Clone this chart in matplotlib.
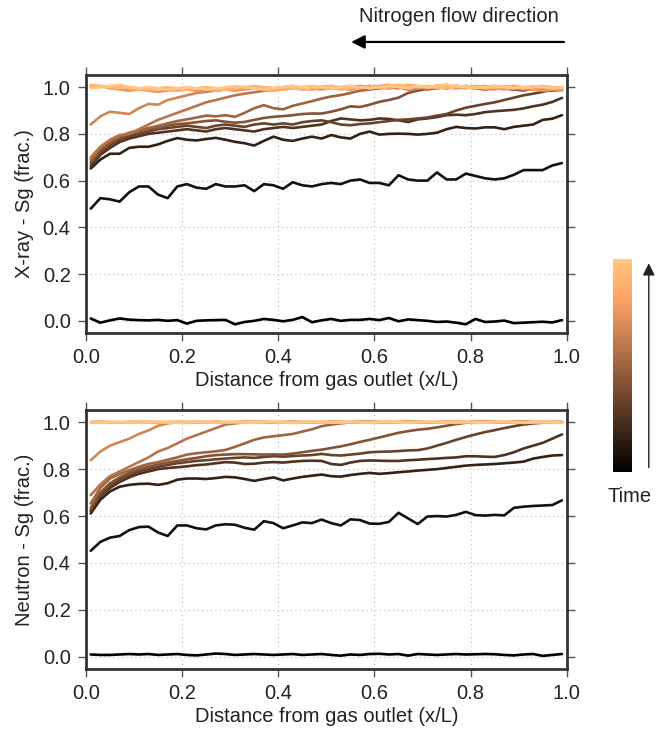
import matplotlib
matplotlib.use("Agg")
import matplotlib.pyplot as plt
import numpy as np
from matplotlib import cm
from matplotlib.colors import Normalize

plt.rcParams['font.family'] = ['Liberation Sans', 'DejaVu Sans']
plt.rcParams['font.size'] = 14.5
plt.rcParams['text.color'] = '#222222'
plt.rcParams['axes.labelcolor'] = '#222222'

# position along the core (x/L), 50 samples
x_pos = np.linspace(0.01, 0.99, 50)

# ---- X-ray saturation profiles, early -> late ----
xray_0 = [0.010, -0.008, 0.002, 0.010, 0.005, 0.003, 0.002, 0.004, 0.000, 0.003,
          -0.012, 0.000, 0.002, 0.003, 0.004, -0.015, -0.005, 0.000, 0.008, 0.004,
          -0.002, 0.004, 0.016, -0.006, 0.002, 0.008, 0.000, 0.004, 0.004, 0.008,
          0.003, 0.012, -0.002, 0.006, 0.003, 0.000, -0.005, -0.003, -0.008, -0.015,
          0.008, -0.005, -0.003, 0.001, -0.010, -0.008, -0.006, -0.004, -0.007, 0.003]
xray_1 = [0.48, 0.525, 0.52, 0.51, 0.55, 0.575, 0.575, 0.54, 0.525, 0.575,
          0.585, 0.57, 0.565, 0.585, 0.575, 0.575, 0.58, 0.555, 0.585, 0.58,
          0.565, 0.593, 0.58, 0.575, 0.585, 0.59, 0.585, 0.6, 0.605, 0.59,
          0.59, 0.58, 0.623, 0.605, 0.6, 0.6, 0.635, 0.605, 0.605, 0.63,
          0.62, 0.61, 0.605, 0.61, 0.625, 0.645, 0.645, 0.645, 0.665, 0.675]
xray_2 = [0.652, 0.69, 0.715, 0.715, 0.74, 0.745, 0.745, 0.755, 0.77, 0.782,
          0.775, 0.772, 0.778, 0.783, 0.775, 0.766, 0.76, 0.75, 0.77, 0.788,
          0.775, 0.77, 0.78, 0.788, 0.78, 0.795, 0.785, 0.78, 0.80, 0.81,
          0.797, 0.80, 0.801, 0.80, 0.797, 0.80, 0.805, 0.82, 0.83, 0.825,
          0.823, 0.828, 0.828, 0.82, 0.83, 0.835, 0.84, 0.86, 0.865, 0.88]
xray_3 = [0.66, 0.71, 0.74, 0.765, 0.78, 0.79, 0.80, 0.805, 0.81, 0.815,
          0.82, 0.815, 0.81, 0.82, 0.825, 0.82, 0.815, 0.81, 0.82, 0.825,
          0.83, 0.825, 0.83, 0.835, 0.84, 0.855, 0.866, 0.862, 0.858, 0.86,
          0.866, 0.864, 0.858, 0.851, 0.862, 0.866, 0.872, 0.88, 0.882, 0.88,
          0.885, 0.893, 0.897, 0.90, 0.903, 0.909, 0.918, 0.925, 0.937, 0.954]
xray_4 = [0.67, 0.72, 0.75, 0.775, 0.79, 0.80, 0.81, 0.82, 0.825, 0.83,
          0.835, 0.83, 0.825, 0.835, 0.84, 0.835, 0.83, 0.84, 0.845, 0.84,
          0.845, 0.84, 0.85, 0.855, 0.858, 0.85, 0.84, 0.837, 0.842, 0.845,
          0.85, 0.855, 0.86, 0.862, 0.866, 0.87, 0.878, 0.885, 0.90, 0.912,
          0.92, 0.928, 0.935, 0.945, 0.955, 0.965, 0.972, 0.98, 0.99, 0.995]
xray_5 = [0.68, 0.73, 0.76, 0.785, 0.80, 0.81, 0.82, 0.825, 0.835, 0.842,
          0.845, 0.85, 0.855, 0.858, 0.852, 0.848, 0.851, 0.86, 0.868, 0.873,
          0.876, 0.88, 0.885, 0.887, 0.887, 0.895, 0.905, 0.918, 0.915, 0.925,
          0.937, 0.945, 0.955, 0.975, 0.985, 0.993, 1.0, 0.995, 1.005, 1.0,
          0.995, 1.0, 1.005, 0.995, 0.99, 0.995, 1.0, 0.99, 0.985, 0.99]
xray_6 = [0.69, 0.74, 0.77, 0.79, 0.805, 0.815, 0.825, 0.835, 0.845, 0.855,
          0.862, 0.87, 0.878, 0.875, 0.88, 0.873, 0.89, 0.91, 0.923, 0.91,
          0.905, 0.92, 0.93, 0.94, 0.951, 0.96, 0.966, 0.975, 0.985, 0.99,
          0.995, 1.0, 0.995, 1.005, 1.0, 0.99, 0.995, 1.0, 1.005, 1.0,
          0.995, 0.99, 1.0, 0.995, 0.99, 0.985, 0.995, 0.99, 0.985, 0.99]
xray_7 = [0.70, 0.745, 0.775, 0.795, 0.80, 0.82, 0.84, 0.86, 0.875, 0.89,
          0.905, 0.92, 0.935, 0.945, 0.955, 0.965, 0.972, 0.978, 0.985, 0.99,
          0.995, 1.0, 0.99, 0.995, 1.0, 1.005, 0.995, 0.99, 1.0, 1.005,
          1.0, 0.995, 1.0, 0.99, 0.995, 1.0, 1.005, 0.995, 1.0, 1.005,
          1.0, 0.99, 0.995, 1.0, 0.995, 0.99, 1.0, 0.995, 0.99, 0.995]
xray_8 = [0.84, 0.875, 0.895, 0.89, 0.885, 0.91, 0.928, 0.925, 0.945, 0.955,
          0.965, 0.975, 0.98, 0.985, 0.99, 0.99, 1.0, 0.995, 0.99, 0.995,
          1.0, 1.005, 0.995, 0.99, 1.0, 1.0, 0.995, 1.0, 1.005, 1.0,
          0.995, 1.0, 1.0, 0.99, 0.995, 1.0, 1.005, 1.0, 0.995, 1.0,
          1.0, 0.995, 0.99, 1.0, 1.005, 0.995, 0.99, 1.0, 0.995, 1.0]
xray_9 = [1.0, 1.005, 0.995, 0.99, 0.985, 0.99, 0.985, 0.98, 0.985, 0.99,
          0.99, 0.985, 0.99, 0.995, 0.99, 0.985, 0.99, 0.995, 1.0, 0.995,
          0.99, 0.995, 1.0, 0.995, 0.99, 0.995, 1.0, 1.005, 0.995, 1.0,
          1.005, 1.01, 1.0, 1.005, 1.0, 0.995, 1.005, 1.01, 1.0, 0.995,
          1.0, 1.005, 0.995, 0.99, 1.0, 0.995, 0.99, 0.985, 0.99, 0.985]
xray_10 = [1.005, 1.0, 1.005, 1.0, 0.995, 0.99, 0.99, 0.995, 0.99, 0.985,
           0.99, 0.995, 0.99, 0.985, 0.99, 0.995, 1.0, 0.995, 0.99, 0.985,
           0.99, 0.995, 1.0, 1.005, 1.0, 0.995, 0.99, 0.995, 1.0, 1.005,
           1.0, 0.995, 1.005, 1.01, 1.005, 1.0, 0.995, 1.0, 1.005, 1.0,
           1.005, 1.0, 0.995, 1.0, 1.005, 1.0, 0.995, 1.0, 0.995, 1.0]
xray_11 = [1.01, 1.005, 1.0, 0.995, 1.0, 0.995, 0.99, 0.995, 1.0, 0.995,
           0.99, 0.995, 1.0, 0.995, 0.99, 0.995, 1.0, 1.005, 1.0, 0.995,
           1.0, 0.995, 0.99, 0.995, 1.0, 1.005, 1.0, 0.995, 1.0, 0.995,
           1.0, 1.005, 1.01, 1.005, 1.0, 1.005, 1.0, 0.995, 1.0, 1.005,
           1.0, 0.995, 1.0, 1.005, 1.0, 0.995, 1.0, 1.005, 1.0, 0.995]
xray_12 = [0.995, 1.0, 1.005, 1.01, 1.0, 0.995, 1.0, 0.995, 0.99, 0.995,
           1.0, 0.995, 0.99, 0.995, 1.0, 1.005, 1.0, 0.995, 0.99, 0.995,
           1.0, 1.005, 1.0, 1.005, 1.0, 0.995, 1.0, 1.005, 1.0, 0.995,
           1.0, 1.005, 1.0, 0.995, 1.005, 1.0, 1.005, 1.01, 1.005, 1.0,
           0.995, 1.0, 1.005, 1.0, 0.995, 1.0, 1.005, 1.0, 0.995, 1.0]

# ---- Neutron saturation profiles, early -> late ----
neut_0 = [0.010, 0.008, 0.008, 0.010, 0.012, 0.010, 0.012, 0.008, 0.010, 0.012,
          0.008, 0.006, 0.010, 0.014, 0.012, 0.008, 0.010, 0.012, 0.010, 0.008,
          0.010, 0.012, 0.008, 0.010, 0.012, 0.008, 0.005, 0.010, 0.008, 0.012,
          0.013, 0.010, 0.012, 0.005, 0.012, 0.010, 0.008, 0.010, 0.012, 0.010,
          0.011, 0.012, 0.011, 0.008, 0.006, 0.010, 0.012, 0.004, 0.008, 0.012]
neut_1 = [0.452, 0.49, 0.508, 0.515, 0.54, 0.553, 0.555, 0.53, 0.515, 0.56,
          0.56, 0.548, 0.543, 0.56, 0.565, 0.563, 0.55, 0.542, 0.578, 0.57,
          0.548, 0.56, 0.573, 0.57, 0.585, 0.57, 0.56, 0.586, 0.583, 0.568,
          0.567, 0.575, 0.614, 0.59, 0.566, 0.598, 0.60, 0.598, 0.605, 0.618,
          0.604, 0.602, 0.605, 0.603, 0.635, 0.64, 0.643, 0.645, 0.647, 0.667]
neut_2 = [0.611, 0.67, 0.705, 0.725, 0.733, 0.737, 0.738, 0.733, 0.74, 0.755,
          0.76, 0.76, 0.758, 0.762, 0.767, 0.765, 0.758, 0.75, 0.758, 0.765,
          0.752, 0.76, 0.767, 0.772, 0.777, 0.77, 0.768, 0.775, 0.78, 0.784,
          0.78, 0.783, 0.787, 0.79, 0.794, 0.797, 0.80, 0.805, 0.81, 0.815,
          0.818, 0.82, 0.822, 0.825, 0.828, 0.832, 0.845, 0.852, 0.858, 0.86]
neut_3 = [0.62, 0.685, 0.72, 0.745, 0.765, 0.78, 0.79, 0.80, 0.805, 0.808,
          0.812, 0.817, 0.82, 0.825, 0.83, 0.828, 0.822, 0.823, 0.828, 0.83,
          0.828, 0.832, 0.835, 0.836, 0.835, 0.822, 0.818, 0.828, 0.835, 0.837,
          0.836, 0.835, 0.835, 0.838, 0.84, 0.843, 0.845, 0.848, 0.85, 0.855,
          0.855, 0.853, 0.852, 0.86, 0.872, 0.888, 0.90, 0.912, 0.93, 0.948]
neut_4 = [0.625, 0.69, 0.73, 0.755, 0.775, 0.79, 0.80, 0.81, 0.818, 0.825,
          0.83, 0.835, 0.838, 0.842, 0.845, 0.848, 0.85, 0.848, 0.852, 0.855,
          0.853, 0.856, 0.858, 0.86, 0.865, 0.86, 0.858, 0.862, 0.866, 0.872,
          0.874, 0.875, 0.877, 0.88, 0.881, 0.888, 0.90, 0.912, 0.925, 0.937,
          0.948, 0.958, 0.966, 0.975, 0.983, 0.99, 0.995, 0.998, 1.0, 1.0]
neut_5 = [0.635, 0.70, 0.74, 0.765, 0.785, 0.80, 0.81, 0.82, 0.828, 0.835,
          0.842, 0.848, 0.855, 0.86, 0.862, 0.864, 0.864, 0.863, 0.862, 0.863,
          0.862, 0.866, 0.872, 0.878, 0.883, 0.89, 0.897, 0.906, 0.916, 0.925,
          0.935, 0.945, 0.955, 0.962, 0.968, 0.972, 0.978, 0.985, 0.992, 0.998,
          1.0, 1.002, 1.0, 0.998, 1.0, 1.002, 1.0, 1.0, 0.998, 1.0]
neut_6 = [0.654, 0.72, 0.76, 0.78, 0.795, 0.81, 0.822, 0.83, 0.84, 0.85,
          0.862, 0.868, 0.872, 0.876, 0.882, 0.895, 0.91, 0.925, 0.935, 0.94,
          0.945, 0.95, 0.96, 0.97, 0.983, 0.99, 0.995, 1.0, 1.0, 1.002,
          1.0, 0.998, 1.0, 1.002, 1.0, 1.0, 0.998, 1.0, 1.002, 1.0,
          1.0, 0.998, 1.0, 1.0, 1.002, 1.0, 0.998, 1.0, 1.0, 1.0]
neut_7 = [0.689, 0.735, 0.77, 0.79, 0.81, 0.83, 0.85, 0.875, 0.89, 0.91,
          0.93, 0.945, 0.96, 0.975, 0.99, 0.995, 1.0, 1.0, 1.002, 1.0,
          0.998, 1.0, 1.0, 1.002, 1.0, 0.998, 1.0, 1.0, 1.002, 1.0,
          1.0, 0.998, 1.0, 1.0, 1.002, 1.0, 1.0, 0.998, 1.0, 1.0,
          1.002, 1.0, 1.0, 0.998, 1.0, 1.002, 1.0, 1.0, 0.998, 1.0]
neut_8 = [0.838, 0.875, 0.90, 0.915, 0.93, 0.95, 0.965, 0.985, 0.995, 1.0,
          1.0, 1.002, 1.0, 0.998, 1.0, 1.0, 1.002, 1.0, 0.998, 1.0,
          1.0, 1.002, 1.0, 1.0, 0.998, 1.0, 1.002, 1.0, 1.0, 0.998,
          1.0, 1.002, 1.0, 1.0, 0.998, 1.0, 1.0, 1.002, 1.0, 1.0,
          0.998, 1.0, 1.002, 1.0, 1.0, 0.998, 1.0, 1.002, 1.0, 1.0]
neut_9 = [1.0, 1.003, 1.0, 0.998, 1.0, 1.002, 1.0, 0.997, 1.0, 1.002,
          1.0, 0.998, 1.0, 1.003, 1.0, 0.998, 1.0, 1.002, 1.0, 0.998,
          1.0, 1.002, 1.0, 0.998, 1.0, 1.003, 1.0, 0.998, 1.0, 1.002,
          1.0, 0.998, 1.0, 1.002, 1.0, 0.997, 1.0, 1.002, 1.0, 0.998,
          1.0, 1.003, 1.0, 0.998, 1.0, 1.002, 1.0, 0.998, 1.0, 1.002]
neut_10 = [1.002, 1.0, 0.998, 1.0, 1.003, 1.0, 0.998, 1.0, 1.002, 1.0,
           0.997, 1.0, 1.002, 1.0, 0.998, 1.0, 1.003, 1.0, 0.998, 1.0,
           1.002, 1.0, 0.998, 1.0, 1.002, 1.0, 0.997, 1.0, 1.003, 1.0,
           0.998, 1.0, 1.002, 1.0, 0.998, 1.0, 1.002, 1.0, 0.997, 1.0,
           1.002, 1.0, 0.998, 1.0, 1.003, 1.0, 0.998, 1.0, 1.002, 1.0]
neut_11 = [0.998, 1.0, 1.002, 1.0, 0.997, 1.0, 1.003, 1.0, 0.998, 1.0,
           1.002, 1.0, 0.998, 1.0, 1.002, 1.0, 0.997, 1.0, 1.003, 1.0,
           0.998, 1.0, 1.002, 1.0, 0.998, 1.0, 1.002, 1.0, 0.997, 1.0,
           1.003, 1.0, 0.998, 1.0, 1.002, 1.0, 0.998, 1.0, 1.002, 1.0,
           0.997, 1.0, 1.003, 1.0, 0.998, 1.0, 1.002, 1.0, 0.998, 1.0]
neut_12 = [1.0, 0.998, 1.0, 1.002, 1.0, 0.998, 1.0, 1.003, 1.0, 0.997,
           1.0, 1.002, 1.0, 0.998, 1.0, 1.002, 1.0, 0.998, 1.0, 1.003,
           1.0, 0.997, 1.0, 1.002, 1.0, 0.998, 1.0, 1.002, 1.0, 0.998,
           1.0, 1.003, 1.0, 0.997, 1.0, 1.002, 1.0, 0.998, 1.0, 1.002,
           1.0, 0.998, 1.0, 1.003, 1.0, 0.997, 1.0, 1.002, 1.0, 0.998]

xray_profiles = [xray_0, xray_1, xray_2, xray_3, xray_4, xray_5, xray_6,
                 xray_7, xray_8, xray_9, xray_10, xray_11, xray_12]
neut_profiles = [neut_0, neut_1, neut_2, neut_3, neut_4, neut_5, neut_6,
                 neut_7, neut_8, neut_9, neut_10, neut_11, neut_12]

ylabels = ['X-ray - Sg (frac.)', 'Neutron - Sg (frac.)']
xlabel = 'Distance from gas outlet (x/L)'

fig = plt.figure(figsize=(6.56, 7.36), dpi=100)
ax_top = fig.add_axes([0.131, 0.5476, 0.733, 0.3505])
ax_bot = fig.add_axes([0.131, 0.0910, 0.733, 0.3519])

cmap = plt.get_cmap('copper')
n = len(xray_profiles)

for ax, profiles, ylab in zip([ax_top, ax_bot], [xray_profiles, neut_profiles], ylabels):
    for i, prof in enumerate(profiles):
        ax.plot(x_pos, prof, color=cmap(i / (n - 1)), lw=1.9, solid_capstyle='round')
    ax.set_xlim(0, 1)
    ax.set_ylim(-0.052, 1.052)
    ax.set_xticks([0, 0.2, 0.4, 0.6, 0.8, 1.0])
    ax.set_yticks([0, 0.2, 0.4, 0.6, 0.8, 1.0])
    ax.set_xticklabels(['0.0', '0.2', '0.4', '0.6', '0.8', '1.0'])
    ax.set_yticklabels(['0.0', '0.2', '0.4', '0.6', '0.8', '1.0'])
    ax.set_xlabel(xlabel, labelpad=3)
    ax.set_ylabel(ylab, labelpad=6)
    ax.grid(True, linestyle=(0, (1, 3)), color='#bbbbbb', lw=0.8)
    ax.tick_params(direction='out', length=6, width=1, color='#555555',
                   labelcolor='#222222', top=True, right=True, pad=5)
    for sp in ax.spines.values():
        sp.set_linewidth(2)
        sp.set_color('#333333')

# colorbar for time
cax = fig.add_axes([0.9345, 0.3587, 0.029, 0.289])
sm = cm.ScalarMappable(norm=Normalize(0, 1), cmap=cmap)
cb = fig.colorbar(sm, cax=cax)
cb.set_ticks([])
cb.outline.set_visible(False)
fig.text(0.960, 0.325, 'Time', ha='center', va='center')
fig.patches.append(matplotlib.patches.FancyArrowPatch(
    (0.989, 0.361), (0.989, 0.646), transform=fig.transFigure,
    arrowstyle='-|>', mutation_scale=18, color='#222222', lw=1.0))

# flow direction arrow
fig.text(0.700, 0.977, 'Nitrogen flow direction', ha='center', va='center')
fig.patches.append(matplotlib.patches.FancyArrowPatch(
    (0.864, 0.943), (0.531, 0.943), transform=fig.transFigure,
    arrowstyle='-|>', mutation_scale=20, color='black', lw=1.6))

fig.savefig('out.png', dpi=100)
